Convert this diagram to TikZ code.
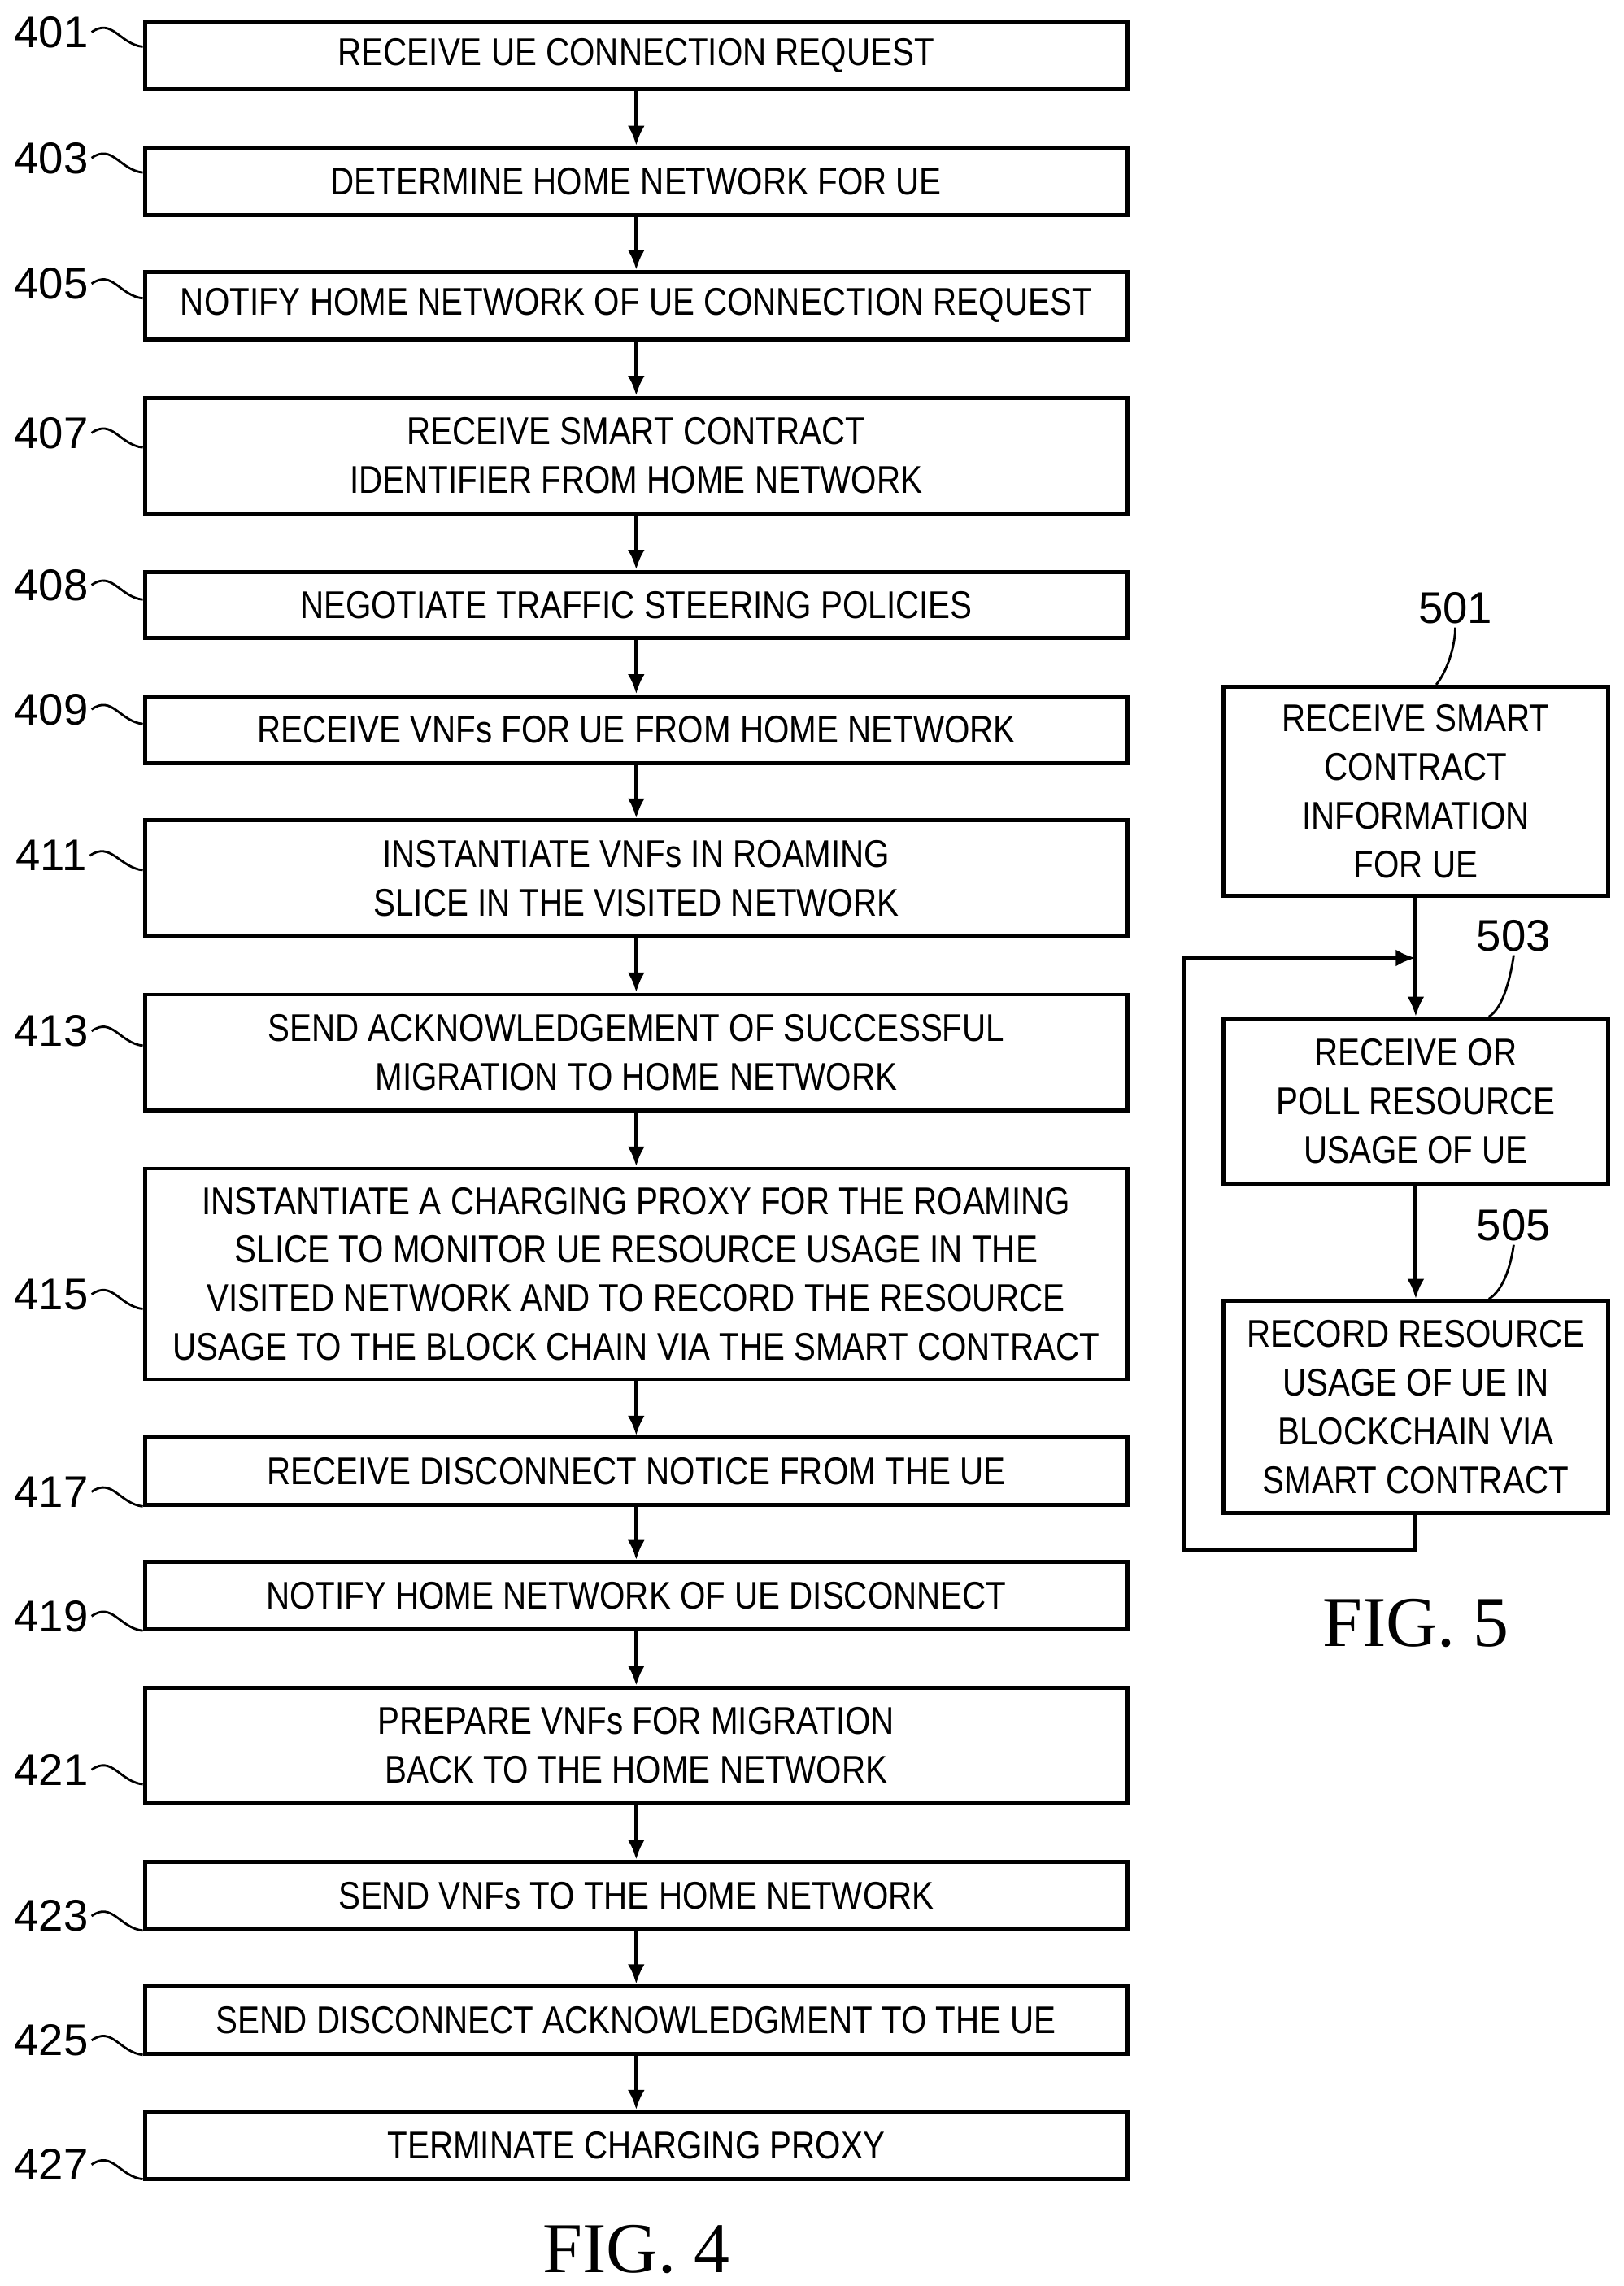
\documentclass[tikz,border=0pt]{standalone}
\usepackage{fontspec}
\setmainfont{Liberation Sans}
\newfontfamily\figfont{Liberation Serif}
\usetikzlibrary{arrows.meta}
\newcommand\stp[6]{%
  \node[box, minimum height={(#4-#3)*0.01797cm}] (#1) at (435,{(#3+#4)/2}) {#6};
  \node[lab] (l#1) at (35,#5) {#2};
  \draw[thick] (l#1.east) .. controls +(14,-10) and +(-16,-2) .. ([yshift={-10*0.01797cm}]l#1.east -| #1.west);}
\begin{document}
\begin{tikzpicture}[x=0.01797cm,y=-0.01797cm,
  box/.style={draw,line width=1.4pt,minimum width={672*0.01797cm},inner sep=0pt,align=center,font=\fontsize{13.5}{17}\selectfont\addfontfeature{FakeStretch=0.85}},
  box5/.style={draw,line width=1.4pt,minimum width={263*0.01797cm},inner sep=0pt,align=center,font=\fontsize{13.5}{17}\selectfont\addfontfeature{FakeStretch=0.85}},
  lab/.style={font=\fontsize{15.5}{18}\selectfont,inner sep=1pt},
  arr/.style={line width=1.4pt,-{Latex[length=7pt,width=6pt]}}]
\useasboundingbox (0,0) rectangle (1110,1563);
\stp{a}{401}{15}{61}{22}{RECEIVE UE CONNECTION REQUEST}
\stp{b}{403}{101}{147}{108}{DETERMINE HOME NETWORK FOR UE}
\stp{c}{405}{186}{232}{194}{NOTIFY HOME NETWORK OF UE CONNECTION REQUEST}
\stp{d}{407}{272}{351}{296}{RECEIVE SMART CONTRACT\\IDENTIFIER FROM HOME NETWORK}
\stp{e}{408}{391}{436}{400}{NEGOTIATE TRAFFIC STEERING POLICIES}
\stp{f}{409}{476}{522}{485}{RECEIVE VNFs FOR UE FROM HOME NETWORK}
\stp{g}{411}{561}{640}{585}{INSTANTIATE VNFs IN ROAMING\\SLICE IN THE VISITED NETWORK}
\stp{h}{413}{680}{759}{705}{SEND ACKNOWLEDGEMENT OF SUCCESSFUL\\MIGRATION TO HOME NETWORK}
\stp{i}{415}{799}{943}{885}{INSTANTIATE A CHARGING PROXY FOR THE ROAMING\\SLICE TO MONITOR UE RESOURCE USAGE IN THE\\VISITED NETWORK AND TO RECORD THE RESOURCE\\USAGE TO THE BLOCK CHAIN VIA THE SMART CONTRACT}
\stp{j}{417}{983}{1029}{1020}{RECEIVE DISCONNECT NOTICE FROM THE UE}
\stp{k}{419}{1068}{1114}{1105}{NOTIFY HOME NETWORK OF UE DISCONNECT}
\stp{m}{421}{1154}{1233}{1210}{PREPARE VNFs FOR MIGRATION\\BACK TO THE HOME NETWORK}
\stp{n}{423}{1273}{1319}{1310}{SEND VNFs TO THE HOME NETWORK}
\stp{o}{425}{1358}{1404}{1395}{SEND DISCONNECT ACKNOWLEDGMENT TO THE UE}
\stp{p}{427}{1444}{1490}{1480}{TERMINATE CHARGING PROXY}
\foreach \u/\v in {a/b,b/c,c/d,d/e,e/f,f/g,g/h,h/i,i/j,j/k,k/m,m/n,n/o,o/p}
  \draw[arr] (\u) -- (\v);
\node[font=\figfont\fontsize{25}{28}\selectfont,inner sep=0pt] (f4) at (435,1538) {FIG. 4};
% FIG 5
\node[box5,minimum height={143*0.01797cm}] (q) at (968,541) {RECEIVE SMART\\CONTRACT\\INFORMATION\\FOR UE};
\node[box5,minimum height={113*0.01797cm}] (r) at (968,753) {RECEIVE OR\\POLL RESOURCE\\USAGE OF UE};
\node[box5,minimum height={145*0.01797cm}] (s) at (968,962) {RECORD RESOURCE\\USAGE OF UE IN\\BLOCKCHAIN VIA\\SMART CONTRACT};
\node[lab] (lq) at (995,416) {501};
\node[lab] (lr) at (1035,640) {503};
\node[lab] (ls) at (1035,838) {505};
\draw[thick] (lq.south) .. controls +(0,12) and +(8,-10) .. (q.north -| 982,0);
\draw[thick] (lr.south) .. controls +(-2,14) and +(10,-6) .. (r.north -| 1018,0);
\draw[thick] (ls.south) .. controls +(-2,14) and +(10,-6) .. (s.north -| 1018,0);
\draw[arr] (q) -- (r);
\draw[arr] (r) -- (s);
\coordinate (j5) at (968,655);
\draw[arr] (s.south) -- (968,1060) -- (810,1060) -- (810,655) -- (j5);
\node[font=\figfont\fontsize{25}{28}\selectfont] (f5) at (968,1110) {FIG. 5};
\end{tikzpicture}
\end{document}
